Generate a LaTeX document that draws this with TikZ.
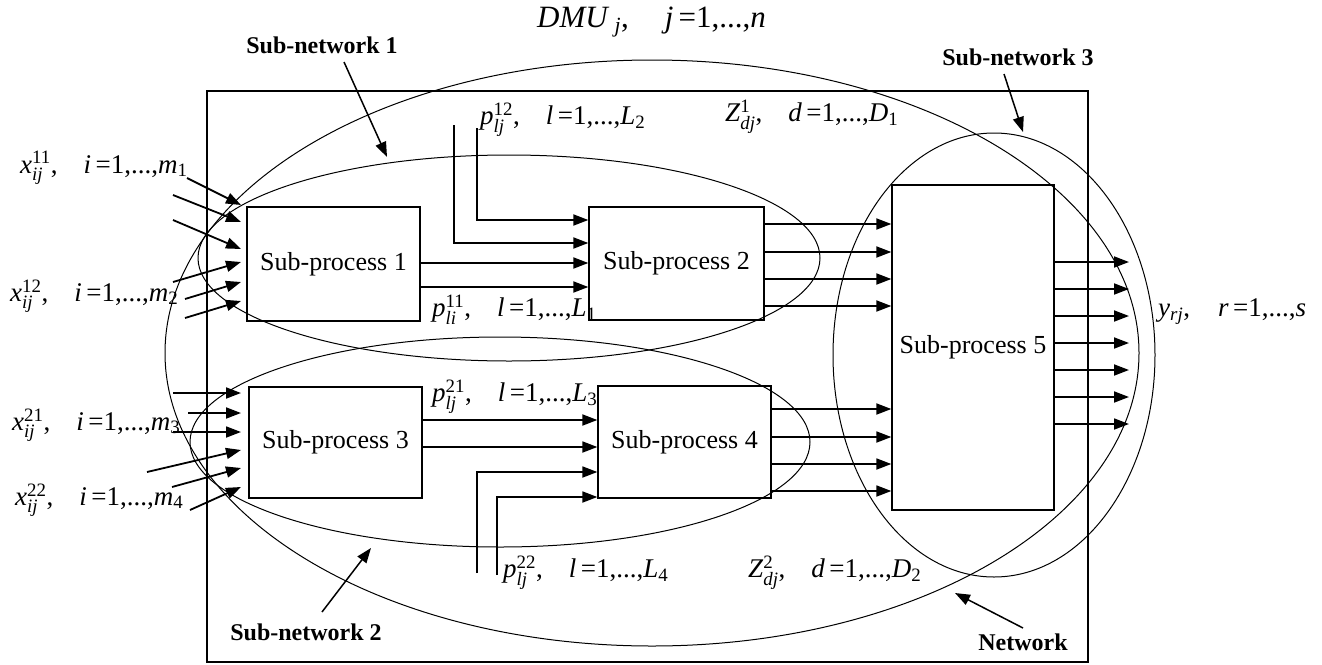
\documentclass[tikz,border=0pt]{standalone}
\usepackage{amsmath}
\usepackage{fontspec}
\setmainfont{Liberation Serif}
\usetikzlibrary{arrows.meta,shapes.geometric}
% \lab{letter}{sup}{sub}{index}{last}{lastsub}
\newcommand{\lab}[6]{\textit{#1}$^{\text{#2}}_{\text{\itshape #3}}$,\hspace{26pt}\textit{#4}\,=1,...,\textit{#5}$_{\text{#6}}$}
\begin{document}
\begin{tikzpicture}[x=1pt,y=-1pt,
  ring/.style={draw, ellipse, line width=1pt, inner sep=0pt},
  proc/.style={draw, line width=1.3pt, inner sep=0pt, font=\fontsize{26}{30}\selectfont},
  arr/.style={line width=1.8pt, -{Triangle[length=15pt,width=11pt]}},
  lbl/.style={inner sep=0pt, anchor=west, font=\fontsize{27}{31}\selectfont},
  tag/.style={inner sep=0pt, font=\fontsize{24}{28}\selectfont\bfseries}]
\useasboundingbox (0,0) rectangle (1322,664);

% network frame
\node[draw, line width=1.3pt, inner sep=0pt, minimum width=881pt, minimum height=571pt] (net) at (647.5,376.5) {};

% ellipses
\node[ring, minimum width=974pt, minimum height=586pt] (bigE) at (652,353) {};
\node[ring, minimum width=622pt, minimum height=206pt] (SN1) at (509,258) {};
\node[ring, minimum width=620pt, minimum height=210pt] (SN2) at (500,442) {};
\node[ring, minimum width=322pt, minimum height=444pt] (SN3) at (994,355) {};

% processes
\node[proc, minimum width=173pt, minimum height=114pt] (P1) at (333.5,264) {Sub-process 1};
\node[proc, minimum width=175pt, minimum height=113pt] (P2) at (676.5,263.5) {Sub-process 2};
\node[proc, minimum width=173pt, minimum height=111pt] (P3) at (335.5,442.5) {Sub-process 3};
\node[proc, minimum width=173pt, minimum height=112pt] (P4) at (684.5,442) {Sub-process 4};
\node[proc, minimum width=162pt, minimum height=325pt] (P5) at (973,347.5) {Sub-process 5};

% inputs of sub-process 1
\foreach \i/\sx/\sy/\ey in {a/187/178/205, b/173/195/222, c/173/220/249, d/173/282/262, e/185/299/282, f/185/318/301} {
  \coordinate (in1\i) at (\sx,\sy);
  \coordinate (to1\i) at (241,\ey);
  \draw[arr] (in1\i) -- (to1\i);
}
% inputs of sub-process 3
\foreach \i/\sx/\sy/\ey in {a/173/393/393, b/188/413/413, c/173/432/432, d/147/472/450, e/172/487/468, f/190/510/487} {
  \coordinate (in3\i) at (\sx,\sy);
  \coordinate (to3\i) at (241,\ey);
  \draw[arr] (in3\i) -- (to3\i);
}

% sub-process 1 -> sub-process 2
\coordinate (v12a) at (477,128);
\coordinate (v12b) at (454,125);
\draw[arr] (v12a) |- (P2.west |- 0,220);
\draw[arr] (v12b) |- (P2.west |- 0,243);
\draw[arr] (P1.east |- 0,263) -- (P2.west |- 0,263);
\draw[arr] (P1.east |- 0,287) -- (P2.west |- 0,287);

% sub-process 3 -> sub-process 4
\coordinate (v22a) at (477,573);
\coordinate (v22b) at (497,575);
\draw[arr] (P3.east |- 0,420) -- (P4.west |- 0,420);
\draw[arr] (P3.east |- 0,447) -- (P4.west |- 0,447);
\draw[arr] (v22a) |- (P4.west |- 0,472);
\draw[arr] (v22b) |- (P4.west |- 0,497);

% sub-process 2 / 4 -> sub-process 5
\foreach \y in {224,252,279,306} {\draw[arr] (P2.east |- 0,\y) -- (P5.west |- 0,\y);}
\foreach \y in {409,437,464,491} {\draw[arr] (P4.east |- 0,\y) -- (P5.west |- 0,\y);}

% outputs of sub-process 5
\foreach \y [count=\k] in {262,289,316,343,370,397,424} {
  \coordinate (out\k) at (1129,\y);
  \draw[arr] (P5.east |- 0,\y) -- (out\k);
}

% labels
\node[lbl] (Lx11) at (20,168) {\lab{x}{11}{ij}{i}{m}{1}};
\node[lbl] (Lx12) at (10,296) {\lab{x}{12}{ij}{i}{m}{2}};
\node[lbl] (Lx21) at (12,425) {\lab{x}{21}{ij}{i}{m}{3}};
\node[lbl] (Lx22) at (15,500) {\lab{x}{22}{ij}{i}{m}{4}};
\node[lbl] (Lp12) at (480,120) {\lab{p}{12}{lj}{l}{L}{2}};
\node[lbl] (Lp11) at (432,310) {\lab{p}{11}{li}{l}{L}{1}};
\node[lbl] (Lp21) at (432,397) {\lab{p}{21}{lj}{l}{L}{3}};
\node[lbl] (Lp22) at (503,573) {\lab{p}{22}{lj}{l}{L}{4}};
\node[lbl] (LZ1) at (725,117) {\lab{Z}{1}{dj}{d}{D}{1}};
\node[lbl] (LZ2) at (748,573) {\lab{Z}{2}{dj}{d}{D}{2}};
\node[lbl] (Ly) at (1158,312) {\textit{y}$_{\text{\itshape rj}}$,\hspace{28pt}\textit{r}\,=1,...,\textit{s}};
\node[lbl, font=\fontsize{31}{35}\selectfont] (LDMU) at (537,22) {\textit{DMU}\,$_{\text{\itshape j}}$,\hspace{36pt}\textit{j}\,=1,...,\textit{n}};

% bold tags with pointers
\node[tag] (T1) at (322,45) {Sub-network 1};
\node[tag] (T2) at (306,632) {Sub-network 2};
\node[tag] (T3) at (1018,57) {Sub-network 3};
\node[tag] (T4) at (1023,642) {Network};
\coordinate (p1) at (387,157);
\coordinate (p2) at (371,548);
\coordinate (p3) at (1023,132);
\coordinate (p4) at (955,593);
\draw[arr, line width=1.5pt] (344,62) -- (p1);
\draw[arr, line width=1.5pt] (322,612) -- (p2);
\draw[arr, line width=1.5pt] (1004,74) -- (p3);
\draw[arr, line width=1.5pt] (1023,628) -- (p4);
\end{tikzpicture}
\end{document}
